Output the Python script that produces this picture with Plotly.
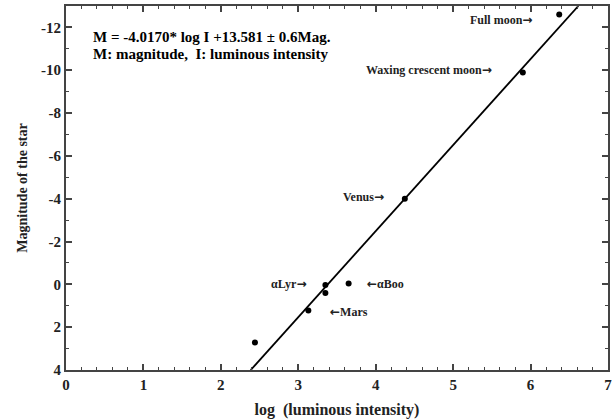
import plotly.graph_objects as go

# Observed objects: log luminous intensity vs. apparent magnitude
names = ["Full moon", "Waxing crescent moon", "Venus", "αLyr", "star b", "αBoo", "Mars", "star a"]
log_i = [6.37, 5.90, 4.376, 3.35, 3.35, 3.65, 3.13, 2.44]
mag = [-12.6, -9.9, -4.0, 0.03, 0.4, -0.04, 1.22, 2.72]

# Fitted relation M = slope * log I + intercept
slope = -4.0170
intercept = 13.581
mag_range = [4, -13]
fit_x = [(m - intercept) / slope for m in mag_range]
fit_y = [slope * x + intercept for x in fit_x]

# Tick labels (plain hyphen minus)
x_ticks = [0, 1, 2, 3, 4, 5, 6, 7]
y_ticks = [4, 2, 0, -2, -4, -6, -8, -10, -12]

# Point labels: text, anchor position in data units, horizontal anchor
label_text = ["Full moon", "Waxing crescent moon", "Venus", "αLyr", "αBoo", "Mars"]
label_x = [6.04, 5.53, 4.13, 3.13, 3.86, 3.38]
label_y = [-12.35, -10.0, -4.1, 0.0, 0.0, 1.28]
label_anchor = ["right", "right", "right", "right", "left", "left"]

# Text block in the upper left
info_lines = ["M = -4.0170* log I +13.581 ± 0.6Mag.",
              "M: magnitude,  I: luminous intensity"]

serif = "Liberation Serif, Times New Roman, serif"
axis_col = "#444444"
arrow_r = "<span style='font-family:DejaVu Sans'>→</span>"
arrow_l = "<span style='font-family:DejaVu Sans'>←</span>"

fig = go.Figure()
fig.add_trace(go.Scatter(x=fit_x, y=fit_y, mode="lines",
                         line=dict(color="black", width=1.8), hoverinfo="skip"))
fig.add_trace(go.Scatter(x=log_i, y=mag, mode="markers", text=names,
                         marker=dict(color="black", size=6)))

for t, x, y, a in zip(label_text, label_x, label_y, label_anchor):
    txt = t + arrow_r if a == "right" else arrow_l + t
    fig.add_annotation(x=x, y=y, text="<b>" + txt + "</b>", showarrow=False,
                       xanchor=a, yanchor="middle",
                       font=dict(family=serif, size=12, color="#222"))

for i, line in enumerate(info_lines):
    fig.add_annotation(xref="paper", yref="paper", x=0.048, y=0.915 - 0.047 * i,
                       xanchor="left", yanchor="middle", showarrow=False,
                       borderpad=0,
                       text="<b>" + line + "</b>",
                       font=dict(family=serif, size=15, color="black"))

tickfont = dict(family=serif, size=15, color="#222")
axis_common = dict(showgrid=False, zeroline=False, showline=True, mirror="ticks",
                   linecolor=axis_col, linewidth=2, ticks="inside",
                   tickcolor=axis_col, tickwidth=1.5, ticklen=6,
                   tickfont=tickfont)

fig.update_xaxes(range=[0, 7], tickvals=x_ticks,
                 ticktext=["<b>%d</b>" % v for v in x_ticks],
                 minor=dict(dtick=0.2, ticks="inside", ticklen=3,
                            tickcolor=axis_col, tickwidth=1),
                 title=dict(text="<b>log  (luminous intensity)</b>",
                            font=dict(family=serif, size=16, color="#222"),
                            standoff=12),
                 **axis_common)
fig.update_yaxes(range=mag_range, tickvals=y_ticks,
                 ticktext=["<b>%d</b>" % v for v in y_ticks],
                 minor=dict(dtick=1, ticks="inside", ticklen=3,
                            tickcolor=axis_col, tickwidth=1),
                 title=dict(text="<b>Magnitude of the star</b>",
                            font=dict(family=serif, size=14, color="#222"),
                            standoff=10),
                 **axis_common)

fig.update_layout(width=616, height=420, showlegend=False,
                  plot_bgcolor="white", paper_bgcolor="white",
                  margin=dict(l=66, r=4, t=6, b=48))

fig.write_html("out.html")
